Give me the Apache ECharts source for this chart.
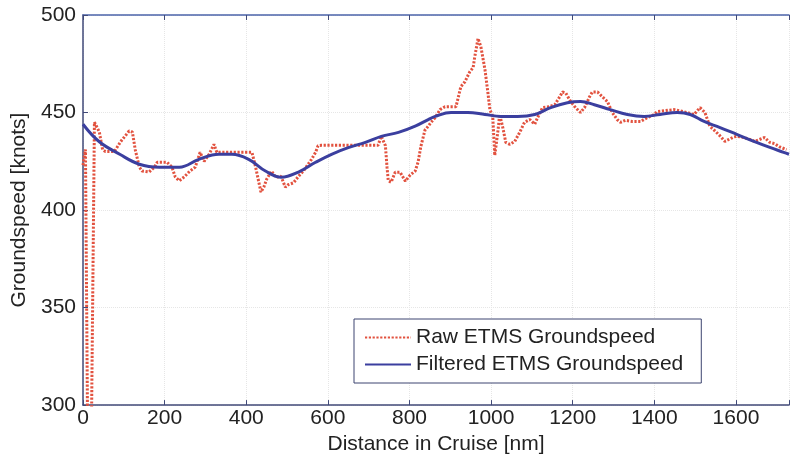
<!DOCTYPE html>
<html>
<head>
<meta charset="utf-8">
<script src="https://cdn.jsdelivr.net/npm/echarts@6/dist/echarts.min.js"></script>
<style>html,body{margin:0;padding:0;background:#fff}#c{width:792px;height:460px}</style>
</head>
<body>
<div id="c"></div>
<script>
// Raw ETMS groundspeed (distance nm, knots)
var rawDist = [0,6,11,21,28,40,48,55,77,92,113,121,128,138,145,162,175,182,206,218,226,236,248,262,275,287,297,309,321,328,336,414,423,436,443,450,462,472,485,496,503,516,528,540,548,560,570,576,584,723,731,741,745,748,755,765,777,790,802,814,821,828,838,846,853,863,875,887,914,926,936,948,956,960,968,975,985,992,997,1004,1009,1017,1021,1024,1029,1036,1046,1058,1070,1082,1095,1107,1114,1126,1143,1156,1168,1175,1183,1195,1207,1219,1229,1241,1248,1261,1273,1285,1297,1309,1317,1329,1346,1366,1383,1400,1407,1449,1480,1497,1512,1524,1536,1549,1561,1573,1595,1602,1619,1634,1646,1670,1683,1695,1707,1724];
var rawSpeed = [423,431,295,295,445,440,431,430,430,435,440.5,440,431,422,420,419.5,422,424.5,424.5,422,417,415,417,420,422,429.6,425,428.6,433.7,429.6,429.6,429.6,422,409.2,411.7,415.8,420,416.8,417.3,411.7,413,414,417.3,420,422.4,426,429.6,433,433.2,433.2,437.8,433,422,415,414.3,419.4,419.4,414.8,418,420,424.5,432.7,441,443,445,447.4,451.5,453,453,463.3,465.8,471,473,478.6,488,483.7,472,460.5,451.5,448,428,441,449,450,442,434.7,433.7,435.2,439.8,445,446.4,444,447.4,452.5,453,454,458,460.5,460,455.6,452.5,450,452.5,458,460.5,460.5,458,455.6,450,446.4,445,446,445.4,445.4,447.4,449,450.5,451.5,450,449,452.5,450,443,440.5,438,435.2,437.5,437.8,437.2,436.2,435.2,437.2,434.7,434,432.4,431];
// Filtered ETMS groundspeed
var filtDist = [0,40,90,138,187,236,284,333,365,406,447,486,528,570,609,650,692,731,773,814,846,863,902,943,985,1024,1065,1107,1146,1187,1219,1253,1292,1334,1375,1414,1456,1488,1522,1561,1602,1644,1683,1717,1730];
var filtSpeed = [444,435,428.6,423.5,422,422,426,428.6,428.6,426,420,416.8,419.5,424.5,428.6,432,434.7,437.8,439.8,443,446.4,448,450,450,449,448,448,449,452.5,455,455.6,454,451.5,449,448,449,450,449,445.4,442.3,438.8,435.2,432.1,429.6,428.6];
var seriesNames = ['Raw ETMS Groundspeed', 'Filtered ETMS Groundspeed'];
var xName = 'Distance in Cruise [nm]';
var yName = 'Groundspeed [knots]';

function zip(a, b) { return a.map(function (v, i) { return [v, b[i]]; }); }

var FONT = '"Liberation Sans", Arial, sans-serif';
var axisCol = '#414a78';
var txtCol = '#222';
var chart = echarts.init(document.getElementById('c'), null, {renderer: 'canvas'});
chart.setOption({
  animation: false,
  backgroundColor: '#fff',
  grid: {left: 83, right: 0, top: 15, bottom: 53, containLabel: false},
  xAxis: [{
    type: 'value', min: 0, max: 1730, interval: 200,
    name: xName, nameLocation: 'middle', nameGap: 28,
    nameTextStyle: {fontFamily: FONT, fontSize: 21, color: txtCol},
    axisLine: {show: true, lineStyle: {color: axisCol, width: 1.5}},
    axisTick: {show: true, inside: true, length: 5, lineStyle: {color: axisCol}},
    axisLabel: {margin: 3, fontFamily: FONT, fontSize: 21, color: txtCol,
      formatter: function (v) { return v % 200 === 0 ? String(v) : ''; }},
    splitLine: {show: true, lineStyle: {color: '#e6e6e6', type: 'dotted'}}
  }, {
    type: 'value', position: 'top', min: 0, max: 1730, interval: 200,
    axisLine: {show: true, lineStyle: {color: '#4c64aa', width: 1.5}},
    axisTick: {show: true, inside: true, length: 5, lineStyle: {color: axisCol}},
    axisLabel: {show: false},
    splitLine: {show: false}
  }],
  yAxis: {
    type: 'value', min: 300, max: 500, interval: 50,
    name: yName, nameLocation: 'middle', nameGap: 48, nameRotate: 90,
    nameTextStyle: {fontFamily: FONT, fontSize: 21, color: txtCol},
    axisLine: {show: true, lineStyle: {color: axisCol, width: 1.5}},
    axisTick: {show: true, inside: true, length: 5, lineStyle: {color: axisCol}},
    axisLabel: {margin: 7, fontFamily: FONT, fontSize: 21, color: txtCol},
    splitLine: {show: true, lineStyle: {color: '#e6e6e6', type: 'dotted'}}
  },
  legend: {
    orient: 'vertical', left: 354, top: 319,
    padding: [8, 18, 8, 10], itemGap: 6, itemWidth: 46, itemHeight: 14,
    backgroundColor: '#fff', borderColor: '#3d4470', borderWidth: 1, borderRadius: 0,
    itemStyle: {opacity: 0},
    textStyle: {fontFamily: FONT, fontSize: 21, color: txtCol},
    data: seriesNames
  },
  series: [{
    name: seriesNames[0], type: 'line', data: zip(rawDist, rawSpeed),
    symbol: 'none', clip: true,
    lineStyle: {color: '#e2523f', width: 3, type: [2.2, 1.6]},
    itemStyle: {color: '#e2523f'},
    z: 2
  }, {
    name: seriesNames[1], type: 'line', data: zip(filtDist, filtSpeed),
    symbol: 'none', smooth: 0.4, clip: true,
    lineStyle: {color: '#3b3f9f', width: 3},
    itemStyle: {color: '#3b3f9f'},
    z: 3
  }]
});
</script>
</body>
</html>
